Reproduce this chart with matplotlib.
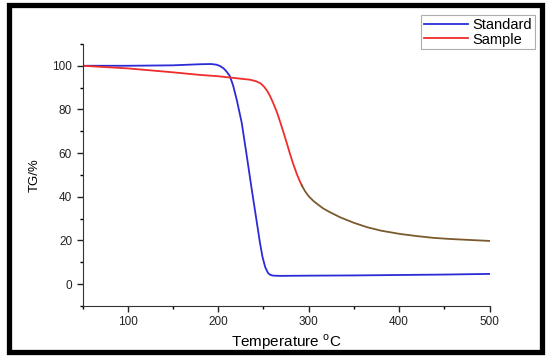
import numpy as np
import matplotlib
matplotlib.use('Agg')
import matplotlib.pyplot as plt
from matplotlib.patches import Rectangle
from matplotlib.ticker import MultipleLocator

plt.rcParams['font.family'] = ['Liberation Sans', 'DejaVu Sans']

# Standard (blue)
std_t = [50, 100, 150, 180, 192, 198, 202, 206, 209, 213, 216.5, 220.5, 226, 231.6, 237,
         242.7, 246, 249, 252, 255, 257.4, 261, 268.6, 300, 350, 400, 450, 500]
std_w = [100, 100, 100.2, 100.7, 100.8, 100.5, 99.9, 98.8, 97.5, 95.2, 91, 84.5, 74, 58.8, 43.7,
         28.4, 19.5, 12.5, 7.8, 5.2, 4.3, 3.9, 3.8, 3.9, 4.0, 4.2, 4.4, 4.7]

# Sample (red, brownish tail)
smp_t = [50, 100, 150, 180, 200, 220, 235.5, 242, 247, 251, 254.5, 257.5, 261, 264.8, 268,
         272, 276, 279.6, 283, 287, 290, 292.5, 296, 299.8, 305, 309, 316, 323.8, 335,
         350, 364.5, 380, 401, 420, 438, 456, 475, 500]
smp_w = [100, 98.8, 97.0, 95.8, 95.2, 94.3, 93.6, 92.9, 91.9, 90.3, 88.3, 86.0, 82.8, 78.9, 75.0,
         69.8, 64.4, 59.4, 55.0, 50.4, 47.4, 45.2, 42.6, 40.4, 38.2, 36.9, 34.7, 32.9, 30.6,
         28.1, 26.1, 24.5, 23.0, 22.0, 21.2, 20.7, 20.3, 19.8]

fig = plt.figure(figsize=(5.5, 3.63), dpi=100)
ax = fig.add_axes([0.150, 0.157, 0.740, 0.722])

ax.plot(std_t, std_w, color='#2B2BD8', lw=1.3, label='Standard',
        solid_joinstyle='round')
split = 21
ax.plot(smp_t[:split + 1], smp_w[:split + 1], color='#F02C2C', lw=1.3, label='Sample',
        solid_joinstyle='round')
ax.plot(smp_t[split:], smp_w[split:], color='#7A5A2E', lw=1.3, solid_joinstyle='round')

ax.set_xlim(50, 500)
ax.set_ylim(-10, 110)
ax.xaxis.set_major_locator(MultipleLocator(100))
ax.xaxis.set_minor_locator(MultipleLocator(50))
ax.yaxis.set_major_locator(MultipleLocator(20))
ax.yaxis.set_minor_locator(MultipleLocator(10))
ax.tick_params(which='major', direction='out', length=4, width=1, labelsize=8.5,
               colors='#222222')
ax.tick_params(which='minor', direction='out', length=2.5, width=1)
ax.spines['top'].set_visible(False)
ax.spines['right'].set_visible(False)
ax.spines['left'].set_color('#333333')
ax.spines['bottom'].set_color('#333333')

ax.set_xlabel('Temperature $^{\\mathregular{o}}$C', fontsize=11, labelpad=3)
ax.set_ylabel('TG/%', fontsize=9.5, labelpad=8)

leg = fig.legend(loc='upper right', bbox_to_anchor=(0.973, 0.959), borderaxespad=0,
                 fontsize=10.5, frameon=True, fancybox=False, edgecolor='#999999',
                 handlelength=3.0, borderpad=0.2, labelspacing=0.05, handletextpad=0.35)
leg.get_frame().set_linewidth(0.8)

# thick black frame around the whole figure
fig.patches.append(Rectangle((0.017, 0.030), 0.968, 0.955, transform=fig.transFigure,
                             fill=False, edgecolor='black', lw=3.8, zorder=10))

fig.savefig('out.png', dpi=100)
